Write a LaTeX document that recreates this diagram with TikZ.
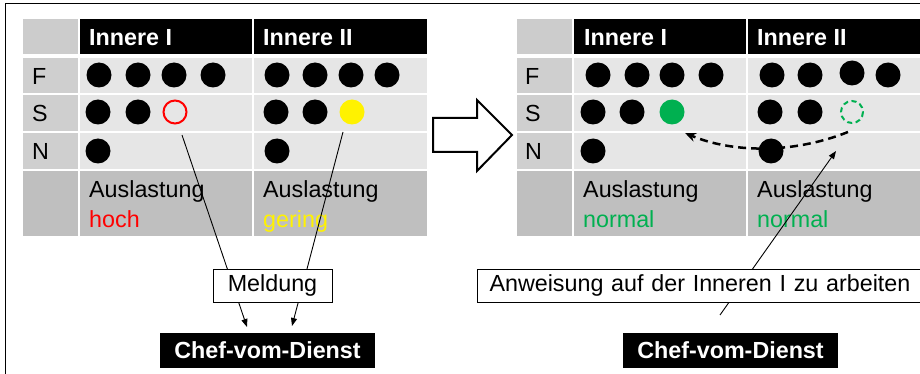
\documentclass[tikz,border=0pt]{standalone}
\usepackage{fontspec}
\setmainfont{Liberation Sans}
\usetikzlibrary{arrows.meta}
\definecolor{cornergray}{HTML}{CCCCCC}
\definecolor{labgray}{HTML}{CFCFCF}
\definecolor{datagray}{HTML}{E6E6E6}
\definecolor{botgray}{HTML}{BFBFBF}
\definecolor{okgreen}{HTML}{00B050}
\tikzset{
  txt/.style={inner sep=0pt, anchor=base west, font=\fontsize{23.3}{28}\selectfont},
  hdr/.style={txt, text=white, font=\fontsize{23.3}{28}\selectfont\bfseries},
  dot/.style={fill=black},
  conn/.style={line width=0.9pt, -{Triangle[length=8pt,width=6pt]}},
  labelbox/.style={draw=black, line width=1pt, fill=white, inner sep=0pt, font=\fontsize{23.3}{28}\selectfont},
  chefbox/.style={fill=black, text=white, inner sep=0pt, font=\fontsize{23.3}{28}\selectfont\bfseries, minimum width=215pt, minimum height=35pt},
}
\newcommand{\mytable}[1]{%
  \begin{scope}[shift={(#1,0)}]
    \fill[cornergray] (23,19) rectangle (78,54);
    \fill[black] (80,19) rectangle (252,54);
    \fill[black] (254,19) rectangle (427,54);
    \fill[labgray] (23,58) rectangle (78,93);
    \fill[labgray] (23,95) rectangle (78,131);
    \fill[labgray] (23,133) rectangle (78,169);
    \fill[datagray] (80,58) rectangle (252,93);
    \fill[datagray] (254,58) rectangle (427,93);
    \fill[datagray] (80,95) rectangle (252,131);
    \fill[datagray] (254,95) rectangle (427,131);
    \fill[datagray] (80,133) rectangle (252,169);
    \fill[datagray] (254,133) rectangle (427,169);
    \fill[botgray] (23,171) rectangle (78,236);
    \fill[botgray] (80,171) rectangle (252,236);
    \fill[botgray] (254,171) rectangle (427,236);
  \end{scope}}
\begin{document}
\begin{tikzpicture}[x=1pt,y=-1pt]
\useasboundingbox (0,0) rectangle (920,374);
\begin{scope}
\clip (0,0) rectangle (920,374);
\fill[white] (0,0) rectangle (920,374);
\draw[line width=1.5pt] (5.5,3.5) rectangle (940,390);

% ---------- left table ----------
\mytable{0}
\node[hdr] (l-h1) at (89,45.5) {Innere I};
\node[hdr] (l-h2) at (263,45.5) {Innere II};
\node[txt] (l-f) at (32,85) {F};
\node[txt] (l-s) at (32,122) {S};
\node[txt] (l-n) at (32,160) {N};
\node[txt] (l-a1) at (89,197) {Auslastung};
\node[txt, text=red] (l-a1b) at (89,227) {hoch};
\node[txt] (l-a2) at (263,197) {Auslastung};
\node[txt, text=yellow] (l-a2b) at (263,227) {gering};
\foreach \x in {99,138,174,213,277,315,351,387} \fill[dot] (\x,75) circle (12.5);
\foreach \x in {98,138,276,315} \fill[dot] (\x,112) circle (12.5);
\draw[red, line width=2pt] (175,112) circle (11.5);
\fill[yellow] (352,112) circle (12.5);
\fill[dot] (98,151) circle (12.5);
\fill[dot] (277,151) circle (12.5);

% ---------- right table ----------
\mytable{494}
\node[hdr] (r-h1) at (584,45.5) {Innere I};
\node[hdr] (r-h2) at (757,45.5) {Innere II};
\node[txt] (r-f) at (525,85) {F};
\node[txt] (r-s) at (525,122) {S};
\node[txt] (r-n) at (525,160) {N};
\node[txt] (r-a1) at (583,197) {Auslastung};
\node[txt, text=okgreen] (r-a1b) at (583,227) {normal};
\node[txt] (r-a2) at (757,197) {Auslastung};
\node[txt, text=okgreen] (r-a2b) at (757,227) {normal};
\foreach \x in {598,637,672,711,772,810,888} \fill[dot] (\x,75) circle (12.5);
\fill[dot] (852,73) circle (12.5);
\foreach \x in {593,632,770,810} \fill[dot] (\x,112) circle (12.5);
\fill[okgreen] (672,112) circle (12.5);
\draw[okgreen, line width=2pt, dash pattern=on 5pt off 3.5pt] (852,112) circle (11);
\fill[dot] (593,151) circle (12.5);
\fill[dot] (771,151) circle (12.5);

% ---------- big hollow arrow ----------
\draw[line width=2pt, fill=white, line join=miter]
  (433,118) -- (477,118) -- (477,100) -- (512,135) -- (477,171) -- (477,152) -- (433,152) -- cycle;

% ---------- connectors ----------
\coordinate (c1s) at (182,135);
\coordinate (c1e) at (247,327);
\coordinate (c2s) at (343,132);
\coordinate (c2e) at (292,326);
\coordinate (c3s) at (720,315);
\coordinate (c3e) at (836,151);
\coordinate (d-s) at (848,132);
\coordinate (d-e) at (685,133);
\draw[conn] (c1s) -- (c1e);
\draw[conn] (c2s) -- (c2e);
\draw[conn] (c3s) -- (c3e);
\draw[line width=2.5pt, dash pattern=on 8pt off 5pt, -{Stealth[length=11pt,width=9pt]}]
  (d-s) .. controls (790,155) and (730,152) .. (d-e);

% ---------- boxes ----------
\node[labelbox, minimum width=119pt, minimum height=33pt] (meld) at (272.5,285.5) {Meldung};
\node[labelbox, minimum width=460pt, minimum height=33pt, anchor=west, align=left, inner xsep=12pt, text width=436pt] (anw) at (477,285.5) {Anweisung auf der Inneren I zu arbeiten};
\node[chefbox] (chef1) at (267.5,350.5) {Chef-vom-Dienst};
\node[chefbox] (chef2) at (730.5,350.5) {Chef-vom-Dienst};
\end{scope}
\end{tikzpicture}
\end{document}
